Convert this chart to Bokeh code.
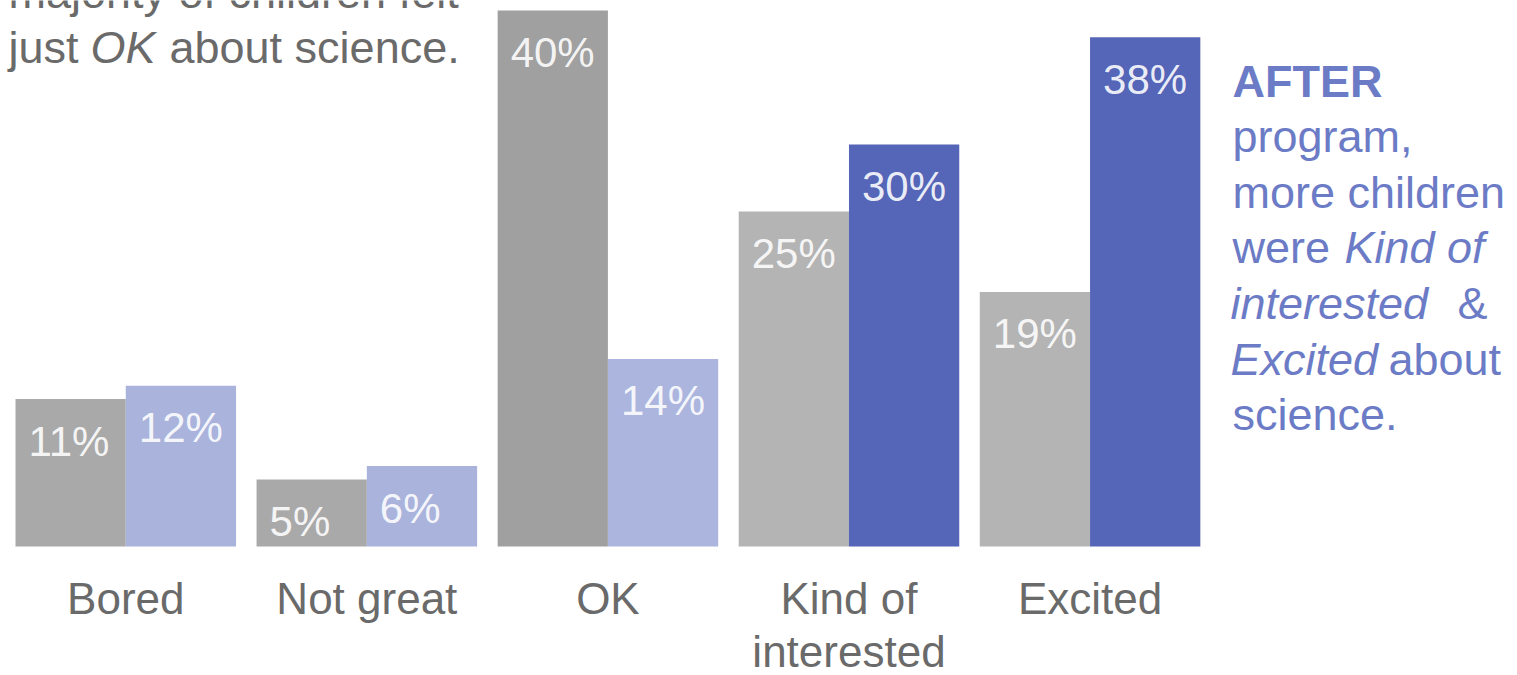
import numpy as np
from bokeh.plotting import figure
from bokeh.models import Range1d, Label, ColumnDataSource
from bokeh.core.properties import value
from bokeh.embed import file_html
from bokeh.resources import INLINE

# ---- data ----
categories = ["Bored", "Not great", "OK", "Kind of\ninterested", "Excited"]
before = [11, 5, 40, 25, 19]
after = [12, 6, 14, 30, 38]

# ---- styles ----
FONT = "Liberation Sans"
GRAY_TXT = "#6a6a6a"
BLUE_TXT = "#6c7bc6"
before_colors = ["#a9a9a9", "#a9a9a9", "#a0a0a0", "#b4b4b4", "#b4b4b4"]
after_colors = ["#a9b3dc", "#a9b3dc", "#abb5de", "#5565b8", "#5565b8"]

W, H = 1517, 675
period = 2.186          # group spacing in bar widths
idx = np.arange(len(categories))
before_x = idx * period + 0.5
after_x = idx * period + 1.5
centers = idx * period + 1.0

p = figure(width=W, height=H, output_backend="svg", toolbar_location=None,
           x_range=Range1d(-0.136, 13.62), y_range=Range1d(-9.63, 40.75),
           min_border=0, min_border_left=0, min_border_right=0,
           min_border_top=0, min_border_bottom=0)
p.axis.visible = False
p.grid.visible = False
p.outline_line_color = None
p.background_fill_color = "white"
p.border_fill_color = "white"

src_b = ColumnDataSource(dict(x=before_x, top=before, color=before_colors,
                              left=before_x - 0.5, lab=[f"{v}%" for v in before]))
src_a = ColumnDataSource(dict(x=after_x, top=after, color=after_colors,
                              left=after_x - 0.5, lab=[f"{v}%" for v in after]))

for src in (src_b, src_a):
    p.vbar(x="x", top="top", bottom=0, width=1.0, color="color", source=src,
           line_color=None)
    p.text(x="left", y="top", text="lab", source=src, x_offset=13, y_offset=42,
           text_baseline="middle", text_align="left", text_color="white",
           text_alpha=0.9, text_font=value(FONT), text_font_size="42px")

# category labels (one row per line)
line1 = [c.split("\n")[0] for c in categories]
p.text(x=centers, y=[0] * len(categories), text=line1, x_offset=0, y_offset=52,
       text_align="center", text_baseline="alphabetic", text_color=GRAY_TXT,
       text_font=value(FONT), text_font_size="44px")
cx2 = [c for c, cat in zip(centers, categories) if "\n" in cat]
l2 = [cat.split("\n")[1] for cat in categories if "\n" in cat]
p.text(x=cx2, y=[0] * len(cx2), text=l2, y_offset=105,
       text_align="center", text_baseline="alphabetic", text_color=GRAY_TXT,
       text_font=value(FONT), text_font_size="44px")

DY = 16  # rendering shift of alphabetic baseline


def lab(text, x, y_top, color, style="normal", size="45px"):
    p.add_layout(Label(x=x, y=H - (y_top - DY), x_units="screen", y_units="screen",
                       text=text, text_color=color, text_font=FONT,
                       text_font_size=size, text_font_style=style,
                       text_baseline="alphabetic", text_align="left"))


# left annotation (top line partly cut off)
lab("majority of children felt", 8, 8, GRAY_TXT)
lab("just", 8, 63, GRAY_TXT)
lab("OK", 90, 63, GRAY_TXT, "italic")
lab("about science.", 169, 63, GRAY_TXT)

# right annotation
rx = 1232
lab("AFTER", rx, 97, BLUE_TXT, "bold")
lab("program,", rx, 152, BLUE_TXT)
lab("more children", rx, 208, BLUE_TXT)
lab("were", rx, 263, BLUE_TXT)
lab("Kind of", 1344, 263, BLUE_TXT, "italic")
lab("interested", 1230, 319, BLUE_TXT, "italic")
lab("&", 1457, 319, BLUE_TXT)
lab("Excited", 1230, 375, BLUE_TXT, "italic")
lab("about", 1388, 375, BLUE_TXT)
lab("science.", rx, 430, BLUE_TXT)

open("out.html", "w").write(file_html(p, INLINE))
